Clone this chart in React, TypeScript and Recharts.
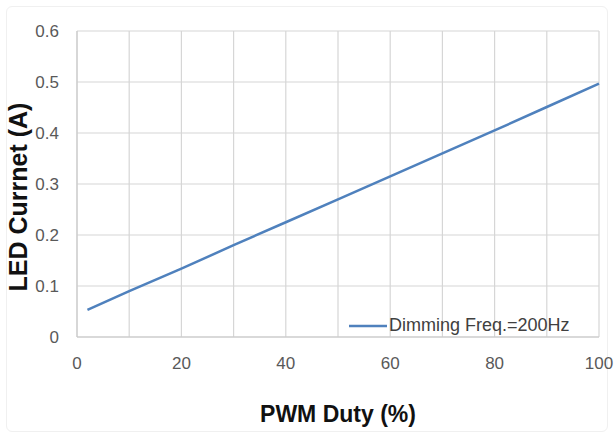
import React from "react";
import { LineChart, Line, XAxis, YAxis, CartesianGrid, Legend, Label } from "recharts";

const duty = [2, 10, 20, 30, 40, 50, 60, 70, 80, 90, 100];
const current = [0.053, 0.09, 0.134, 0.18, 0.225, 0.27, 0.315, 0.36, 0.405, 0.451, 0.497];
const xTicks = [0, 20, 40, 60, 80, 100];
const xGrid = [0, 10, 20, 30, 40, 50, 60, 70, 80, 90, 100];
const yTicks = [0, 0.1, 0.2, 0.3, 0.4, 0.5, 0.6];
const seriesName = "Dimming Freq.=200Hz";
const yTitle = "LED Currnet (A)";

const data = duty.map((d, i) => ({ duty: d, current: current[i] }));

const FONT = "'Liberation Sans', Arial, sans-serif";

const LegendContent = () => (
  <div style={{ display: "flex", alignItems: "center", fontFamily: FONT, fontSize: 18, color: "#404040", whiteSpace: "nowrap" }}>
    <svg width={38} height={10} style={{ marginRight: 2 }}>
      <line x1={0} y1={5} x2={38} y2={5} stroke="#4f81bd" strokeWidth={2.5} />
    </svg>
    <span>{seriesName}</span>
  </div>
);

const YTitle = (props: any) => {
  const vb = props.viewBox || { x: 0, y: 31, width: 77, height: 327 };
  const cx = vb.x + 18;
  const cy = vb.y + vb.height / 2 + 13;
  return (
    <text
      x={cx}
      y={cy}
      transform={`rotate(-90 ${cx} ${cy})`}
      textAnchor="middle"
      dominantBaseline="central"
      fill="#111"
      fontSize={25}
      fontWeight="bold"
      fontFamily={FONT}
    >
      {yTitle}
    </text>
  );
};

export default function App() {
  return (
    <div style={{ position: "absolute", left: 0, top: 0, width: 614, height: 435, background: "#fff" }}>
      <div style={{ position: "absolute", left: 6, top: 6, width: 600, height: 424, border: "1px solid #f0f0f0", borderRadius: 6 }} />
      <LineChart width={614} height={435} data={data} margin={{ top: 31, right: 15, bottom: 0, left: 0 }}>
        <CartesianGrid stroke="#d6d6d6" strokeWidth={1.2} verticalValues={xGrid} horizontalValues={yTicks} />
        <XAxis
          dataKey="duty"
          type="number"
          domain={[0, 100]}
          ticks={xTicks}
          height={77}
          tickSize={0}
          tickMargin={20}
          axisLine={{ stroke: "#c8c8c8" }}
          tick={{ fill: "#595959", fontSize: 17, fontFamily: FONT }}
          label={{ value: "PWM Duty (%)", position: "insideBottom", offset: -8, fill: "#111", fontSize: 23, fontWeight: "bold", fontFamily: FONT }}
        />
        <YAxis
          type="number"
          domain={[0, 0.6]}
          ticks={yTicks}
          width={77}
          tickSize={0}
          tickMargin={18}
          axisLine={{ stroke: "#c8c8c8" }}
          tick={{ fill: "#595959", fontSize: 17, fontFamily: FONT }}
        >
          <Label content={<YTitle />} />
        </YAxis>
        <Legend content={<LegendContent />} wrapperStyle={{ position: "absolute", left: 349, top: 315, width: "auto" }} />
        <Line dataKey="current" name={seriesName} stroke="#4f81bd" strokeWidth={2.5} dot={false} isAnimationActive={false} type="linear" />
      </LineChart>
    </div>
  );
}
